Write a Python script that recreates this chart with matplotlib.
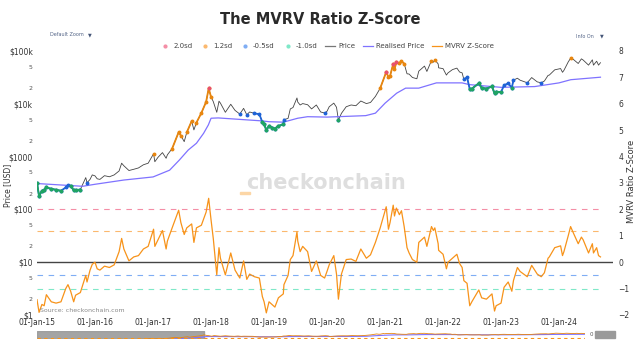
import numpy as np
import pandas as pd
import matplotlib
matplotlib.use("Agg")
import matplotlib.pyplot as plt
import matplotlib.dates as mdates
from matplotlib.lines import Line2D
from matplotlib.patches import Rectangle
from matplotlib.ticker import FixedLocator, FixedFormatter

# ---- data (approximate) ----
dates = [
    "2015-01-01", "2015-01-14", "2015-02-01", "2015-02-15", "2015-03-01", "2015-04-01", "2015-05-01",
    "2015-06-01", "2015-07-01", "2015-07-15", "2015-08-01", "2015-08-20", "2015-09-01", "2015-10-01",
    "2015-11-04", "2015-11-12", "2015-12-01", "2015-12-15",
    "2016-01-01", "2016-01-15", "2016-02-01", "2016-03-01", "2016-04-01", "2016-05-01", "2016-06-01",
    "2016-06-17", "2016-07-01", "2016-08-02", "2016-09-01", "2016-10-01", "2016-11-01", "2016-12-01",
    "2017-01-04", "2017-01-12", "2017-02-01", "2017-03-01", "2017-03-24", "2017-04-01", "2017-05-01",
    "2017-06-11", "2017-06-25", "2017-07-16", "2017-08-01", "2017-09-01", "2017-09-15", "2017-10-01",
    "2017-11-01", "2017-12-01", "2017-12-17",
    "2018-01-01", "2018-01-15", "2018-02-06", "2018-02-20", "2018-03-01", "2018-04-01", "2018-05-05",
    "2018-06-01", "2018-07-01", "2018-07-25", "2018-08-14", "2018-09-01", "2018-10-01", "2018-11-01",
    "2018-11-20", "2018-12-01", "2018-12-15",
    "2019-01-01", "2019-01-20", "2019-02-07", "2019-03-01", "2019-04-01", "2019-04-05", "2019-05-01",
    "2019-05-15", "2019-06-01", "2019-06-26", "2019-07-01", "2019-07-16", "2019-08-01", "2019-09-01",
    "2019-09-26", "2019-10-26", "2019-11-22", "2019-12-17",
    "2020-01-01", "2020-01-15", "2020-02-13", "2020-03-01", "2020-03-13", "2020-04-01", "2020-05-01",
    "2020-06-01", "2020-07-01", "2020-08-01", "2020-09-05", "2020-10-01", "2020-11-01", "2020-12-01",
    "2021-01-08", "2021-01-22", "2021-02-01", "2021-02-21", "2021-03-01", "2021-03-13", "2021-04-01",
    "2021-04-14", "2021-05-01", "2021-05-19", "2021-06-01", "2021-06-22", "2021-07-20", "2021-08-01",
    "2021-09-06", "2021-09-21", "2021-10-20", "2021-11-01", "2021-11-10", "2021-12-01", "2021-12-04",
    "2022-01-01", "2022-01-22", "2022-02-01", "2022-03-01", "2022-03-29", "2022-04-15", "2022-05-01",
    "2022-05-12", "2022-06-01", "2022-06-18", "2022-07-01", "2022-08-14", "2022-09-01", "2022-10-01",
    "2022-11-05", "2022-11-21", "2022-12-01",
    "2023-01-01", "2023-01-20", "2023-02-15", "2023-03-10", "2023-03-20", "2023-04-14", "2023-05-01",
    "2023-06-15", "2023-07-13", "2023-08-17", "2023-09-11", "2023-10-01", "2023-10-24", "2023-11-01",
    "2023-12-05",
    "2024-01-11", "2024-01-23", "2024-02-01", "2024-02-28", "2024-03-14", "2024-04-01", "2024-05-01",
    "2024-05-21", "2024-06-01", "2024-07-05", "2024-07-29", "2024-08-05", "2024-08-25", "2024-09-06",
    "2024-09-18",
]
price = [
    315, 180, 225, 235, 260, 245, 235,
    225, 260, 290, 280, 230, 230, 238,
    400, 320, 370, 450,
    432, 380, 370, 435, 415, 450, 535,
    750, 670, 545, 575, 610, 700, 750,
    1130, 800, 970, 1190, 930, 1080, 1420,
    2900, 2500, 1920, 2870, 4700, 3200, 4400,
    6700, 10900, 19500,
    13500, 11000, 6900, 11200, 10300, 6900, 9800,
    7500, 6400, 8200, 6200, 7000, 6600, 6350,
    4500, 4100, 3200,
    3800, 3550, 3400, 3800, 4100, 5000, 5300,
    8000, 8500, 12900, 10800, 9500, 10100, 9600,
    8000, 9500, 7000, 6700,
    7200, 8800, 10300, 8600, 4900, 6600, 8800,
    9500, 9200, 11300, 10100, 10600, 13800, 19700,
    40000, 32000, 33500, 57000, 45000, 61000, 58800,
    64000, 57700, 37000, 36600, 31500, 29800, 41500,
    51800, 41000, 66000, 61300, 68000, 57000, 48000,
    46300, 35000, 38500, 44400, 47400, 40000, 38500,
    28900, 31800, 19000, 19300, 24400, 20000, 19400,
    21300, 15800, 17000,
    16600, 22500, 24300, 20200, 28000, 30500, 28000,
    25000, 31400, 26000, 25000, 27000, 34500, 35000,
    44000,
    46500, 39500, 43000, 62000, 73000, 69000, 58000,
    71000, 67500, 54000, 68000, 54000, 64000, 54000,
    60000,
]
zscore = [
    -1.42, -1.9, -1.6, -1.65, -1.23, -1.5, -1.55,
    -1.5, -1.0, -0.85, -1.1, -1.5, -1.25, -1.15,
    -0.5, -0.75, -0.3, -0.08,
    0.0, -0.25, -0.3, -0.15, -0.2, -0.1, 0.4,
    0.9, 0.5, 0.05, 0.2, 0.25, 0.5, 0.6,
    1.25, 0.6, 0.85, 1.2, 0.5, 0.8, 1.3,
    1.97, 1.5, 1.05, 1.3, 1.45, 0.75, 1.3,
    1.4, 1.9, 2.42,
    1.6, 0.9, -0.48, 0.55, 0.15, -0.48, 0.35,
    -0.3, -0.6, 0.05, -0.65, -0.45, -0.55, -0.6,
    -1.3, -1.5, -1.92,
    -1.5, -1.6, -1.7, -1.35, -1.2, -0.85, -0.5,
    0.1, 0.25, 1.15, 0.8, 0.4, 0.6, 0.4,
    -0.35, 0.05, -0.5, -0.6,
    -0.35, -0.1, 0.25, -0.45, -1.4, -0.45, 0.1,
    0.12, 0.03, 0.5, 0.15, 0.28, 0.75, 1.3,
    2.1, 1.25, 1.5, 2.16, 1.75, 2.05, 1.8,
    1.95, 1.35, 0.55, 0.35, 0.1, 0.0, 0.75,
    0.95, 0.6, 1.35, 1.2, 1.3, 0.7, 0.45,
    0.3, -0.25, 0.0, 0.15, 0.3, -0.05, -0.2,
    -0.7, -0.8, -1.65, -1.5, -1.05, -1.35, -1.4,
    -1.2, -1.85, -1.65,
    -1.55, -0.95, -0.75, -1.1, -0.7, -0.2, -0.35,
    -0.55, -0.12, -0.45, -0.55, -0.4, 0.15, 0.2,
    0.55,
    0.62, 0.25, 0.4, 1.0, 1.35, 1.1, 0.7,
    0.95, 0.85, 0.35, 0.7, 0.35, 0.55, 0.25,
    0.2,
]
realised_dates = [
    "2015-01-01", "2015-10-15", "2016-01-01", "2016-07-01", "2017-01-01", "2017-04-15", "2017-06-15",
    "2017-08-10", "2017-10-01", "2017-11-15", "2017-12-15", "2018-01-01", "2018-02-15", "2018-11-20",
    "2019-01-01", "2019-04-01", "2019-07-01", "2019-09-01", "2020-01-01", "2020-09-01", "2020-11-01",
    "2021-01-01", "2021-03-15", "2021-05-10", "2021-08-01", "2021-11-20", "2022-05-01", "2022-06-15",
    "2023-01-01", "2023-08-01", "2024-01-01", "2024-03-15", "2024-09-18",
]
realised = [
    309, 274, 299, 360, 412, 553, 858,
    1330, 1790, 2760, 3980, 5330, 5400, 4740,
    4580, 4490, 5330, 5700, 5600, 5970, 6650,
    10300, 15900, 19800, 19800, 24900, 24900, 23100,
    20500, 21200, 24900, 28600, 31900,
]
sd_levels = [2.0, 1.2, -0.5, -1.0]
sd_labels = ["2.0sd", "1.2sd", "-0.5sd", "-1.0sd"]
sd_line_colors = ["#f48ea6", "#fbb86e", "#7fadf4", "#7fe8c8"]
sd_mark_colors = ["#e8506e", "#e8860f", "#1f63d6", "#1fa463"]
year_ticks = [f"{y}-01-01" for y in range(2015, 2025)]
left_major = [1, 10, 100, 1000, 1e4, 1e5]
left_major_lbl = ["$1", "$10", "$100", "$1000", "$10k", "$100k"]

dt = pd.to_datetime(dates)
rdt = pd.to_datetime(realised_dates)
price = np.array(price, dtype=float)
zscore = np.array(zscore, dtype=float)

fig = plt.figure(figsize=(6.4, 3.6), dpi=100)
ax = fig.add_axes([37 / 640, 45 / 360, 576 / 640, 264 / 360])
ax2 = ax.twinx()

# watermark behind everything
fig.text(0.51, 1 - 183 / 360, "checkonchain", fontsize=15, fontweight="bold",
         color="#dedede", ha="center", va="center", zorder=0)
fig.patches.append(Rectangle((240 / 640, 1 - 194 / 360), 10 / 640, 2 / 360,
                             transform=fig.transFigure, color="#fcd6a6", zorder=0))

# upper: price + realised
ax.plot(dt, price, color="#444444", lw=0.6, zorder=3)
ax.plot(rdt, realised, color="#7f72ff", lw=0.9, zorder=3)

masks = [zscore > 2.0, zscore > 1.2, zscore < -0.5, zscore < -1.0]
for i in [1, 0, 2, 3]:
    m = masks[i]
    ax.plot(dt, np.where(m, price, np.nan), color=sd_mark_colors[i], lw=1.3, zorder=4)
    ax.plot(dt[m], price[m], "o", ms=1.8, color=sd_mark_colors[i], zorder=4)

ax.set_yscale("log")
ax.set_ylim(1, 1e5)
ax.yaxis.set_major_locator(FixedLocator(left_major))
ax.yaxis.set_major_formatter(FixedFormatter(left_major_lbl))
minor_pos = [m * d for d in left_major[:-1] for m in (2, 5)]
ax.yaxis.set_minor_locator(FixedLocator(minor_pos))
ax.yaxis.set_minor_formatter(FixedFormatter(["2", "5"] * 5))
ax.tick_params(axis="y", which="major", labelsize=5.5, length=0, pad=3, colors="#333333")
ax.tick_params(axis="y", which="minor", labelsize=4.5, length=0, pad=3, colors="#555555")

# lower: z-score
for lvl, col in zip(sd_levels, sd_line_colors):
    ax2.plot([dt[0], dt[-1]], [lvl, lvl], color=col, lw=0.8, ls=(0, (5, 5)), zorder=2)
ax2.axhline(0, color="#444444", lw=1.0, zorder=2)
ax2.plot(dt, zscore, color="#f7931a", lw=0.9, zorder=5)
ax2.set_ylim(-2, 8)
ax2.set_yticks(range(-2, 9))
ax2.tick_params(axis="y", labelsize=5.5, length=0, pad=4, colors="#333333")

ax.set_xlim(pd.Timestamp("2015-01-01"), pd.Timestamp("2024-12-06"))
ax.set_xticks(pd.to_datetime(year_ticks))
ax.xaxis.set_major_formatter(mdates.DateFormatter("%d-%b-%y"))
ax.tick_params(axis="x", labelsize=5.5, length=0, pad=2.5, colors="#333333")
for a in (ax, ax2):
    for s in a.spines.values():
        s.set_visible(False)

# axis titles placed explicitly so they stay inside the canvas
fig.text(8 / 640, 1 - 185 / 360, "Price [USD]", fontsize=5.5, color="#333333",
         rotation=90, ha="center", va="center")
fig.text(632 / 640, 1 - 181 / 360, "MVRV Ratio Z-Score", fontsize=6, color="#333333",
         rotation=90, ha="center", va="center")

fig.text(40 / 640, 1 - 311 / 360, "Source: checkonchain.com", fontsize=4.5,
         color="#888888", va="center")

# title and widgets
fig.text(0.5, 1 - 20 / 360, "The MVRV Ratio Z-Score", fontsize=10.5, fontweight="bold",
         color="#2a2a2a", ha="center", va="center")
fig.text(50 / 640, 1 - 35 / 360, "Default Zoom", fontsize=3.5, color="#556688", va="center")
fig.text(88 / 640, 1 - 35 / 360, "\u25bc", fontsize=3.5, color="#445577", va="center")
fig.text(576 / 640, 1 - 36 / 360, "Info On", fontsize=3.5, color="#556688", va="center")
fig.text(600 / 640, 1 - 36 / 360, "\u25bc", fontsize=3.5, color="#445577", va="center")

handles = [Line2D([], [], ls="none", marker="o", ms=2.0, color=c) for c in sd_line_colors]
handles += [Line2D([], [], color="#777777", lw=0.9),
            Line2D([], [], color="#7f72ff", lw=0.9),
            Line2D([], [], color="#f7931a", lw=0.9)]
labels = sd_labels + ["Price", "Realised Price", "MVRV Z-Score"]
fig.legend(handles, labels, loc="center", bbox_to_anchor=(327 / 640, 1 - 46 / 360), ncol=7,
           frameon=False, fontsize=5, handlelength=1.5, handletextpad=0.4, columnspacing=1.1,
           labelcolor="#444444")

# range slider strip
ax3 = fig.add_axes([37 / 640, 1 - 339 / 360, 548 / 640, 8 / 360])
ax3.plot(rdt, np.log10(realised), color="#7f72ff", lw=0.8)
ax3.plot(dt, np.log10(price), color="#e8860f", lw=0.6)
ax3.plot([dt[0], dt[-1]], [3.2, 3.2], color="#f7931a", lw=0.8, ls=(0, (3, 3)))
ax3.plot([dt[0], dt[-1]], [3.0, 3.0], color="#1fa463", lw=0.6, ls=(0, (3, 3)))
ax3.set_ylim(2.9, 5.6)
ax3.set_xlim(pd.Timestamp("2015-01-01"), dt[-1])
ax3.axvspan(pd.Timestamp("2015-01-01"), pd.Timestamp("2017-12-15"), color="#9a9a9a", alpha=0.9)
ax3.set_xticks([])
ax3.set_yticks([])
for s in ax3.spines.values():
    s.set_visible(False)
fig.patches.append(Rectangle((595 / 640, 1 - 338 / 360), 20 / 640, 7 / 360,
                             transform=fig.transFigure, color="#9a9a9a"))
fig.text(593 / 640, 1 - 334.5 / 360, "0", fontsize=4, color="#555555", va="center", ha="right")

fig.savefig("out.png", dpi=100)
